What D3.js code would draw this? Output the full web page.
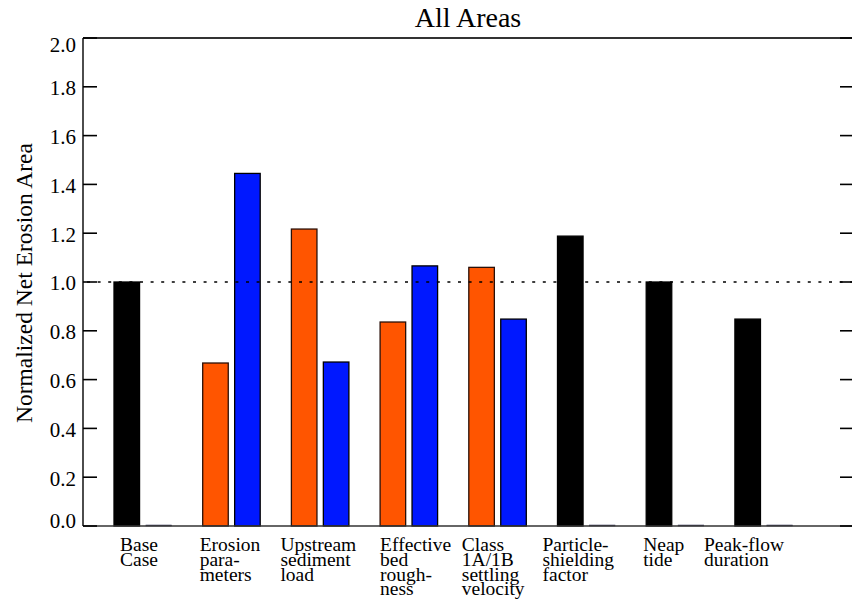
<!DOCTYPE html>
<html>
<head>
<meta charset="utf-8">
<script src="https://cdn.jsdelivr.net/npm/d3@7"></script>
<style>
  body { margin: 0; background: #fff; }
</style>
</head>
<body>
<svg id="chart" width="852" height="603"></svg>
<script>
// categories and their multi-line axis labels
const categories = ['base', 'erosion', 'upstream', 'roughness', 'settling', 'shielding', 'neap', 'peakflow']
const labelLines = [
  ['Base', 'Case'],
  ['Erosion', 'para-', 'meters'],
  ['Upstream', 'sediment', 'load'],
  ['Effective', 'bed', 'rough-', 'ness'],
  ['Class', '1A/1B', 'settling', 'velocity'],
  ['Particle-', 'shielding', 'factor'],
  ['Neap', 'tide'],
  ['Peak-flow', 'duration']
]
// 'single' runs are drawn in black, paired runs as low / high
const runType = ['single', 'pair', 'pair', 'pair', 'pair', 'single', 'single', 'single']
const lowValues = [1.00, 0.668, 1.217, 0.836, 1.060, 1.188, 1.00, 0.848]
const highValues = [0.00, 1.445, 0.672, 1.066, 0.848, 0.00, 0.00, 0.00]
const yTicks = [0.0, 0.2, 0.4, 0.6, 0.8, 1.0, 1.2, 1.4, 1.6, 1.8, 2.0]
// label left-edge nudges (px) relative to the first bar of each group
const labelNudge = [6, -3, -11, 0, -7, -15, -3, -31]

const colors = {single: '#000000', low: '#ff5500', high: '#0018ff'}
const FONT = '"Liberation Serif", "Times New Roman", serif'

const svg = d3.select('#chart')
const frame = {left: 83, right: 853, top: 38, bottom: 526}

// scales
let y = d3.scaleLinear().domain([0, 2]).range([frame.bottom, frame.top])
let x = d3.scaleBand().domain(categories).range([98.4, 808])
let half = x.bandwidth() / 2
let xs = d3.scaleBand().domain([0, 1])
  .range([half - 28.75, half + 28.75])
  .paddingInner(0.2)

// bars
let bars = []
categories.forEach((c, i) => {
  bars.push({cat: c, slot: 0, v: lowValues[i], color: runType[i] === 'single' ? colors.single : colors.low})
  bars.push({cat: c, slot: 1, v: highValues[i], color: colors.high})
})

let g = svg.append('g')

g.selectAll('.bar')
  .data(bars)
  .enter()
  .append('rect')
  .attr('class', 'bar')
  .attr('x', (d) => x(d.cat) + xs(d.slot))
  .attr('width', xs.bandwidth())
  .attr('y', (d) => Math.min(y(d.v), frame.bottom - 1))
  .attr('height', (d) => Math.max(frame.bottom - y(d.v), 1))
  .attr('fill', (d) => d.v === 0 ? '#4a4a66' : d.color)
  .attr('stroke', (d) => d.v === 0 ? '#4a4a66' : (d.color === colors.low ? '#2a1008' : '#000'))
  .attr('stroke-width', (d) => d.v === 0 ? 0.6 : 1.3)

// reference line at 1.0
g.append('line')
  .attr('x1', frame.left).attr('x2', frame.right)
  .attr('y1', y(1)).attr('y2', y(1))
  .attr('stroke', '#000')
  .attr('stroke-width', 1.5)
  .attr('stroke-dasharray', '3,7.6')
  .attr('stroke-dashoffset', -4)

// frame
g.append('line')
  .attr('x1', frame.left).attr('x2', frame.right)
  .attr('y1', frame.top).attr('y2', frame.top)
  .attr('stroke', '#333').attr('stroke-width', 2)
g.append('line')
  .attr('x1', frame.left).attr('x2', frame.right)
  .attr('y1', frame.bottom).attr('y2', frame.bottom)
  .attr('stroke', '#333').attr('stroke-width', 1.6)
g.append('line')
  .attr('x1', frame.left).attr('x2', frame.left)
  .attr('y1', frame.top).attr('y2', frame.bottom)
  .attr('stroke', '#000').attr('stroke-width', 1.4)

// y ticks, both sides
g.selectAll('.ytick-l')
  .data(yTicks)
  .enter()
  .append('line')
  .attr('x1', frame.left).attr('x2', frame.left + 14)
  .attr('y1', (d) => y(d)).attr('y2', (d) => y(d))
  .attr('stroke', '#000').attr('stroke-width', 1.6)
g.selectAll('.ytick-r')
  .data(yTicks)
  .enter()
  .append('line')
  .attr('x1', frame.right - 13).attr('x2', frame.right)
  .attr('y1', (d) => y(d)).attr('y2', (d) => y(d))
  .attr('stroke', '#000').attr('stroke-width', 1.6)

// tick labels, end labels kept inside the axis range
g.selectAll('.ylab')
  .data(yTicks)
  .enter()
  .append('text')
  .attr('x', frame.left - 7)
  .attr('y', (d) => Math.min(Math.max(y(d) + 1, frame.top + 7), frame.bottom - 5))
  .attr('dy', '0.35em')
  .attr('text-anchor', 'end')
  .attr('font-family', FONT)
  .attr('font-size', 21)
  .text((d) => d3.format('.1f')(d))

// category labels
let labels = g.selectAll('.xlab')
  .data(categories)
  .enter()
  .append('text')
  .attr('class', 'xlab')
  .attr('font-family', FONT)
  .attr('font-size', 19.5)
labels.each(function (c, i) {
  let t = d3.select(this)
  labelLines[i].forEach((line, k) => {
    t.append('tspan')
      .attr('x', x(c) + xs(0) + labelNudge[i])
      .attr('y', 551 + k * 14.8)
      .text(line)
  })
})

// title and axis title
svg.append('text')
  .attr('x', (frame.left + frame.right) / 2)
  .attr('y', 27)
  .attr('text-anchor', 'middle')
  .attr('font-family', FONT)
  .attr('font-size', 28)
  .text('All Areas')

svg.append('text')
  .attr('transform', 'translate(32,283) rotate(-90)')
  .attr('text-anchor', 'middle')
  .attr('font-family', FONT)
  .attr('font-size', 23.5)
  .text('Normalized Net Erosion Area')
</script>
</body>
</html>
